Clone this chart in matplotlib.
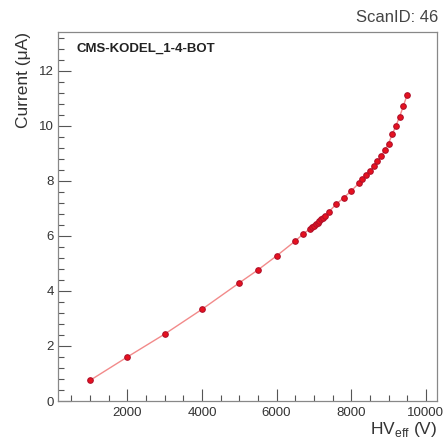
import matplotlib
matplotlib.use("Agg")
import matplotlib.pyplot as plt
from matplotlib.ticker import MultipleLocator

plt.rcParams['font.family'] = ['Liberation Sans', 'DejaVu Sans']

hv_eff = [1000, 2000, 3000, 4000, 5000, 5500, 6000, 6500, 6700,
          6900, 6950, 7000, 7050, 7100, 7150, 7200, 7250, 7300,
          7400, 7600, 7800, 8000, 8200, 8300, 8400, 8500, 8600,
          8700, 8800, 8900, 9000, 9100, 9200, 9300, 9400, 9500]
current = [0.75, 1.60, 2.43, 3.33, 4.29, 4.76, 5.27, 5.81, 6.05,
           6.26, 6.31, 6.37, 6.43, 6.48, 6.54, 6.60, 6.65, 6.71,
           6.87, 7.15, 7.38, 7.63, 7.90, 8.05, 8.20, 8.36, 8.53,
           8.70, 8.90, 9.10, 9.35, 9.68, 10.00, 10.33, 10.72, 11.12]

title_text = "ScanID: 46"
chamber = "CMS-KODEL_1-4-BOT"

fig = plt.figure(figsize=(4.44, 4.40), dpi=100)
ax = fig.add_axes([58/444, 1-401/440, (437-58)/444, (401-32)/440])

ax.plot(hv_eff, current, '-', color='#f28a8a', lw=1.0, zorder=2)
ax.plot(hv_eff, current, 'o', color='#e8101e', markeredgecolor='#b0102a',
        markersize=4.0, markeredgewidth=0.8, zorder=3)

ax.set_xlim(140, 10300)
ax.set_ylim(0, 13.4)
ax.xaxis.set_major_locator(MultipleLocator(2000))
ax.xaxis.set_minor_locator(MultipleLocator(500))
ax.yaxis.set_major_locator(MultipleLocator(2))
ax.yaxis.set_minor_locator(MultipleLocator(0.4))
ax.tick_params(which='both', direction='in', top=False, right=False,
               colors='#555555', labelcolor='#333333', labelsize=9.5)
ax.tick_params(which='major', length=9, width=0.8)
ax.tick_params(which='minor', length=4.5, width=0.8)
ax.tick_params(axis='x', pad=4)
ax.tick_params(axis='y', pad=3)
for s in ax.spines.values():
    s.set_color('#888888')
    s.set_linewidth(0.9)

ax.set_xlabel(r'HV$_{\mathregular{eff}}$ (V)', fontsize=12.5, color='#333333',
              loc='right', labelpad=1)
ax.set_ylabel(u'Current (\u03bcA)', fontsize=12.5, color='#333333',
              loc='top', labelpad=6)

fig.text(438/444, 1-18/440, title_text, ha='right', va='center',
         fontsize=12, color='#444444')
ax.text(0.05, 0.955, chamber, transform=ax.transAxes, ha='left', va='center',
        fontsize=9.5, fontweight='bold', color='#222222')

fig.savefig('out.png', dpi=100)
